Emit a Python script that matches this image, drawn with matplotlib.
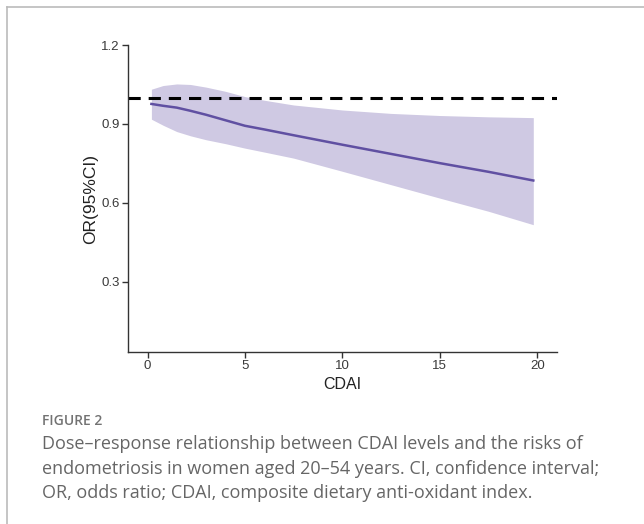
import matplotlib.pyplot as plt
from matplotlib.lines import Line2D

# values
cdai = [0.2, 0.8, 1.5, 2.2, 3, 4, 5, 6, 7.5, 10, 12.5, 15, 17.5, 19.8]
odds = [0.976, 0.969, 0.962, 0.950, 0.935, 0.914, 0.893, 0.879, 0.857, 0.821, 0.786, 0.751, 0.718, 0.685]
upper = [1.032, 1.046, 1.052, 1.050, 1.040, 1.024, 1.004, 0.990, 0.972, 0.953, 0.940, 0.932, 0.927, 0.924]
lower = [0.918, 0.895, 0.871, 0.855, 0.840, 0.825, 0.808, 0.793, 0.770, 0.720, 0.669, 0.618, 0.568, 0.517]
xticks = [0, 5, 10, 15, 20]
yticks = [0.3, 0.6, 0.9, 1.2]

caption_head = "FIGURE 2"
caption_lines = [
    "Dose\u2013response relationship between CDAI levels and the risks of",
    "endometriosis in women aged 20\u201354 years. CI, confidence interval;",
    "OR, odds ratio; CDAI, composite dietary anti-oxidant index.",
]

fig = plt.figure(figsize=(6.44, 5.24), dpi=100)
ax = fig.add_axes([0.1988, 0.3282, 0.6656, 0.5859])

ax.fill_between(cdai, lower, upper, color="#cfc9e3", linewidth=0)
ax.plot(cdai, odds, color="#6050a2", linewidth=1.8)
ax.axhline(1.0, color="black", linewidth=2.2, linestyle=(0, (4, 2.6)))

ax.set_xlim(-1, 21)
ax.set_ylim(0.033, 1.2)
ax.set_xticks(xticks)
ax.set_yticks(yticks)
ax.set_xticklabels([str(t) for t in xticks])
ax.set_yticklabels([f"{t:.1f}" for t in yticks])

for side in ["top", "right"]:
    ax.spines[side].set_visible(False)
for side in ["left", "bottom"]:
    ax.spines[side].set_color("#333333")
    ax.spines[side].set_linewidth(1.0)
ax.tick_params(direction="out", length=4, width=1, color="#333333",
               labelsize=9.5, labelcolor="#3a3a3a", pad=2)
for lab in ax.get_xticklabels() + ax.get_yticklabels():
    lab.set_family("Liberation Sans")

ax.set_xlabel("CDAI", fontsize=11.5, family="Liberation Sans", color="#222222", labelpad=3)
ax.set_ylabel("OR(95%CI)", fontsize=12.5, family="Liberation Sans", color="#222222", labelpad=2)

# frame lines on the top and left of the figure
fig.add_artist(Line2D([0.011, 1.0], [0.987, 0.987], transform=fig.transFigure,
                      color="#bbbbbb", linewidth=1.2))
fig.add_artist(Line2D([0.011, 0.011], [0.0, 0.987], transform=fig.transFigure,
                      color="#bbbbbb", linewidth=1.2))

fig.text(42 / 644, 1 - 425 / 524, caption_head, fontsize=10, family="Open Sans",
         weight="semibold", color="#737373", va="baseline", ha="left")
for i, line in enumerate(caption_lines):
    fig.text(42 / 644, 1 - (449 + 24.5 * i) / 524, line, fontsize=13, family="Open Sans",
             color="#666666", va="baseline", ha="left")

fig.savefig("out.png", dpi=100)
